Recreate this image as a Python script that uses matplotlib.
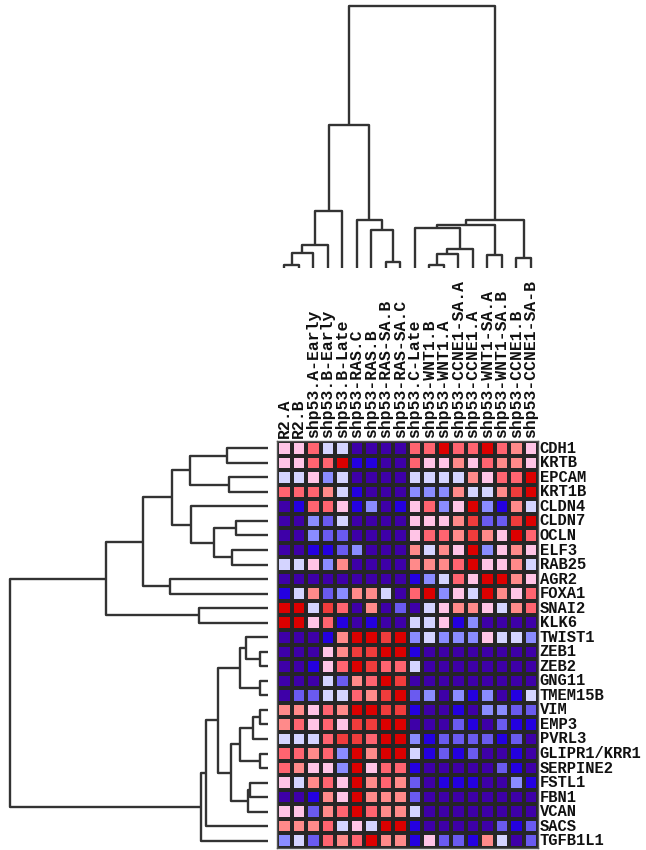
import matplotlib
matplotlib.use("Agg")
import matplotlib.pyplot as plt
import numpy as np
from matplotlib.colors import ListedColormap, BoundaryNorm

# ---------------- data ----------------
samples = ["R2.A", "R2.B", "shp53.A-Early", "shp53.B-Early", "shp53.B-Late",
           "shp53-RAS.C", "shp53-RAS.B", "shp53-RAS-SA.B", "shp53-RAS-SA.C",
           "shp53.C-Late", "shp53-WNT1.B", "shp53-WNT1.A", "shp53-CCNE1-SA.A",
           "shp53-CCNE1.A", "shp53-WNT1-SA.A", "shp53-WNT1-SA.B",
           "shp53-CCNE1.B", "shp53-CCNE1-SA-B"]

genes = ["CDH1", "KRTB", "EPCAM", "KRT1B", "CLDN4", "CLDN7", "OCLN", "ELF3",
         "RAB25", "AGR2", "FOXA1", "SNAI2", "KLK6", "TWIST1", "ZEB1", "ZEB2",
         "GNG11", "TMEM15B", "VIM", "EMP3", "PVRL3", "GLIPR1/KRR1", "SERPINE2",
         "FSTL1", "FBN1", "VCAN", "SACS", "TGFB1L1"]

# expression level (0 = lowest ... 9 = highest), rows = genes, cols = samples
expression = [
    [5, 5, 7, 4, 4, 0, 0, 0, 0, 7, 7, 9, 7, 7, 9, 7, 6, 5],
    [5, 5, 7, 7, 9, 1, 1, 0, 0, 7, 5, 5, 6, 5, 7, 6, 6, 5],
    [4, 4, 5, 3, 4, 0, 0, 0, 0, 4, 4, 4, 4, 6, 5, 7, 7, 9],
    [7, 7, 7, 6, 4, 1, 0, 0, 0, 3, 3, 3, 6, 4, 4, 6, 8, 9],
    [0, 1, 7, 7, 5, 1, 3, 0, 1, 5, 7, 3, 5, 9, 3, 1, 6, 4],
    [0, 0, 3, 2, 4, 0, 0, 0, 0, 5, 5, 5, 6, 8, 2, 2, 8, 9],
    [0, 0, 3, 2, 2, 0, 0, 0, 0, 5, 7, 7, 6, 8, 6, 5, 9, 7],
    [0, 0, 1, 1, 2, 3, 0, 0, 0, 6, 4, 6, 5, 9, 3, 5, 6, 5],
    [4, 4, 5, 3, 6, 0, 0, 0, 0, 6, 6, 6, 7, 9, 5, 5, 6, 4],
    [0, 0, 0, 0, 0, 0, 0, 0, 0, 1, 3, 4, 7, 5, 9, 9, 6, 5],
    [1, 4, 6, 2, 3, 6, 6, 4, 0, 7, 9, 3, 5, 4, 9, 6, 5, 7],
    [9, 9, 4, 8, 7, 0, 6, 0, 2, 0, 4, 5, 6, 6, 5, 4, 6, 7],
    [9, 9, 5, 7, 1, 0, 1, 0, 0, 4, 4, 5, 1, 3, 0, 0, 0, 0],
    [0, 0, 0, 1, 6, 9, 9, 8, 9, 3, 4, 3, 3, 3, 5, 4, 4, 3],
    [0, 0, 0, 5, 6, 8, 8, 9, 9, 1, 0, 0, 0, 0, 0, 0, 0, 0],
    [0, 0, 1, 5, 7, 9, 8, 7, 7, 4, 0, 0, 0, 0, 0, 0, 0, 0],
    [0, 0, 0, 4, 2, 6, 7, 9, 8, 0, 0, 0, 0, 0, 0, 0, 0, 0],
    [0, 2, 2, 4, 4, 7, 6, 8, 9, 2, 3, 0, 3, 1, 3, 0, 1, 4],
    [6, 6, 5, 7, 6, 9, 9, 8, 8, 1, 0, 0, 1, 0, 3, 3, 2, 2],
    [6, 7, 5, 7, 5, 8, 8, 9, 9, 0, 0, 0, 2, 1, 0, 2, 1, 1],
    [4, 4, 4, 7, 8, 8, 7, 9, 9, 3, 1, 2, 2, 2, 2, 1, 2, 0],
    [7, 7, 6, 7, 3, 9, 6, 9, 9, 4, 1, 2, 1, 2, 0, 0, 1, 0],
    [7, 6, 5, 5, 3, 9, 5, 7, 7, 1, 0, 0, 0, 0, 0, 2, 1, 0],
    [5, 4, 6, 7, 5, 9, 6, 7, 6, 2, 0, 1, 1, 1, 0, 0, 3, 1],
    [0, 0, 1, 6, 5, 9, 6, 6, 6, 2, 0, 0, 0, 0, 0, 0, 0, 0],
    [5, 5, 2, 6, 7, 9, 7, 6, 6, 4, 0, 0, 0, 0, 0, 0, 0, 0],
    [6, 6, 6, 7, 4, 5, 4, 9, 9, 1, 0, 0, 0, 0, 0, 2, 1, 2],
    [3, 4, 2, 7, 6, 7, 9, 6, 6, 1, 5, 2, 2, 1, 6, 4, 0, 2],
]

# column tree merges (child_a, child_b, height); new nodes numbered from 18
col_merges = [
    (0, 1, 2.7), (18, 2, 15), (19, 3, 22.7), (20, 4, 56.7),
    (7, 8, 6), (6, 22, 37.7), (5, 23, 48.3), (21, 24, 142.7),
    (10, 11, 2.7), (26, 12, 14), (27, 13, 19), (9, 28, 40),
    (14, 15, 13.3), (29, 30, 43.3), (16, 17, 10), (31, 32, 47.7),
    (25, 33, 261.7),
]

# row tree merges; new nodes numbered from 28
row_merges = [
    (0, 1, 40.7), (2, 3, 39), (28, 29, 77.7), (5, 6, 31.7), (7, 8, 35.7),
    (31, 32, 54.3), (4, 33, 77), (30, 34, 95.7), (9, 10, 97.7),
    (35, 36, 125), (11, 12, 69.3), (37, 38, 161.7),
    (14, 15, 8.3), (13, 40, 21.7), (16, 17, 8.3), (41, 42, 28.3),
    (18, 19, 8.3), (44, 20, 15), (21, 22, 8.3), (45, 46, 28.3),
    (23, 24, 18.3), (48, 25, 20), (47, 49, 36.7), (43, 50, 50),
    (51, 26, 61.7), (52, 27, 66.7), (39, 53, 258),
]

level_colors = ["#3e00a8", "#2400e0", "#6a5af0", "#8a8cff", "#d4d4ff",
                "#ffc4e6", "#ff8a8a", "#ff6470", "#f03c3c", "#dc0000"]

# ---------------- figure ----------------
W, H = 646, 850
fig = plt.figure(figsize=(W / 100, H / 100), dpi=100)
fig.patch.set_facecolor("white")

def px_axes(x0, y0, x1, y1):
    return fig.add_axes([x0 / W, 1 - y1 / H, (x1 - x0) / W, (y1 - y0) / H])

hm_x0, hm_x1, hm_y0, hm_y1 = 277, 538, 441, 848
ncol, nrow = len(samples), len(genes)

# heatmap
ax = px_axes(hm_x0, hm_y0, hm_x1, hm_y1)
data = np.array(expression)
cmap = ListedColormap(level_colors)
norm = BoundaryNorm(np.arange(-0.5, 10.5, 1), cmap.N)
ax.pcolormesh(np.arange(ncol + 1), np.arange(nrow + 1), data, cmap=cmap,
              norm=norm, edgecolors="#262626", linewidth=1.6)
ax.set_xlim(0, ncol)
ax.set_ylim(nrow, 0)
ax.set_xticks([])
ax.set_yticks([])
for s in ax.spines.values():
    s.set_color("#555555")
    s.set_linewidth(1.0)

font = dict(family=["Liberation Mono", "DejaVu Sans Mono"], fontweight="bold",
            color="#111111")
for i, name in enumerate(samples):
    ax.text(i + 0.5, -0.2, name, rotation=90, ha="center", va="bottom",
            clip_on=False, fontsize=11.8, **font)
for j, g in enumerate(genes):
    ax.text(ncol + 0.12, j + 0.5, g, ha="left", va="center",
            clip_on=False, fontsize=11.2, **font)

line_kw = dict(color="#333333", lw=1.7, solid_capstyle="butt")

def draw_tree(axd, merges, n, horizontal):
    pos = {i: i + 0.5 for i in range(n)}
    hgt = {i: 0.0 for i in range(n)}
    for k, (a, b, h) in enumerate(merges):
        xs = [pos[a], pos[a], pos[b], pos[b]]
        ys = [hgt[a], h, h, hgt[b]]
        if horizontal:
            axd.plot(ys, xs, **line_kw)
        else:
            axd.plot(xs, ys, **line_kw)
        pos[n + k] = (pos[a] + pos[b]) / 2
        hgt[n + k] = h

# column dendrogram (top)
axc = px_axes(hm_x0, 4, hm_x1, 268)
draw_tree(axc, col_merges, ncol, horizontal=False)
axc.set_xlim(0, ncol)
axc.set_ylim(0, 264)
axc.axis("off")

# row dendrogram (left)
axr = px_axes(4, hm_y0, 268, hm_y1)
draw_tree(axr, row_merges, nrow, horizontal=True)
axr.set_ylim(nrow, 0)
axr.set_xlim(264, 0)
axr.axis("off")

fig.savefig("out.png", dpi=100, facecolor="white")
